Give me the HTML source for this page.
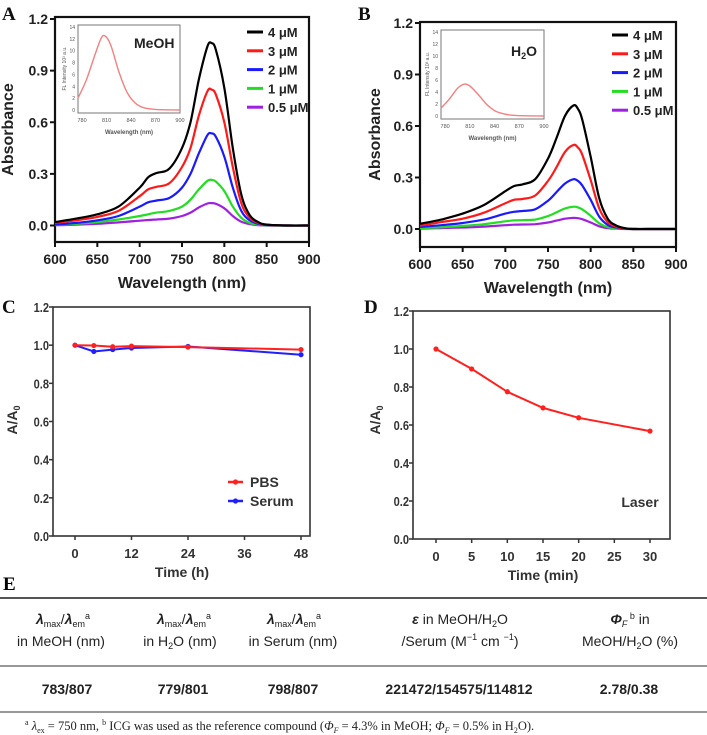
<!DOCTYPE html>
<html><head><meta charset="utf-8"><style>
body{margin:0;background:#fff;}
svg{display:block;font-family:"Liberation Sans",sans-serif;}
.b{font-weight:bold;}
</style></head><body>
<svg id="fig" width="707" height="735" viewBox="0 0 707 735" xmlns="http://www.w3.org/2000/svg">
<g id="gA"></g>
<g id="gB"></g>
<g id="gC"></g>
<g id="gD"></g>
<g id="gE">
<text x="3" y="590" font-family="Liberation Serif" font-weight="bold" font-size="19">E</text>
<line x1="0" y1="598" x2="707" y2="598" stroke="#555" stroke-width="2"/>
<line x1="0" y1="666" x2="707" y2="666" stroke="#777" stroke-width="1.5"/>
<line x1="0" y1="712" x2="707" y2="712" stroke="#777" stroke-width="1.5"/>
<g font-size="14" text-anchor="middle" fill="#222">
<text x="63" y="624"><tspan font-style="italic" font-weight="bold">λ</tspan><tspan font-size="9" dy="3">max</tspan><tspan dy="-3">/</tspan><tspan font-style="italic" font-weight="bold">λ</tspan><tspan font-size="9" dy="3">em</tspan><tspan font-size="9" dy="-8">a</tspan></text>
<text x="61" y="646">in MeOH (nm)</text>
<text x="184" y="624"><tspan font-style="italic" font-weight="bold">λ</tspan><tspan font-size="9" dy="3">max</tspan><tspan dy="-3">/</tspan><tspan font-style="italic" font-weight="bold">λ</tspan><tspan font-size="9" dy="3">em</tspan><tspan font-size="9" dy="-8">a</tspan></text>
<text x="180" y="646">in H<tspan font-size="9" dy="3">2</tspan><tspan dy="-3">O (nm)</tspan></text>
<text x="294" y="624"><tspan font-style="italic" font-weight="bold">λ</tspan><tspan font-size="9" dy="3">max</tspan><tspan dy="-3">/</tspan><tspan font-style="italic" font-weight="bold">λ</tspan><tspan font-size="9" dy="3">em</tspan><tspan font-size="9" dy="-8">a</tspan></text>
<text x="293" y="646">in Serum (nm)</text>
<text x="460" y="624"><tspan font-style="italic" font-weight="bold">ε</tspan> in MeOH/H<tspan font-size="9" dy="3">2</tspan><tspan dy="-3">O</tspan></text>
<text x="460" y="646">/Serum (M<tspan font-size="9" dy="-6">−1</tspan><tspan dy="6"> cm </tspan><tspan font-size="9" dy="-6">−1</tspan><tspan dy="6">)</tspan></text>
<text x="630" y="624"><tspan font-style="italic" font-weight="bold">Φ</tspan><tspan font-style="italic" font-size="9" dy="3">F</tspan><tspan font-size="9" dy="-8"> b</tspan><tspan dy="5"> in</tspan></text>
<text x="630" y="646">MeOH/H<tspan font-size="9" dy="3">2</tspan><tspan dy="-3">O (%)</tspan></text>
</g>
<g font-size="14" font-weight="bold" text-anchor="middle" fill="#222">
<text x="67" y="694">783/807</text>
<text x="183" y="694">779/801</text>
<text x="293" y="694">798/807</text>
<text x="459" y="694">221472/154575/114812</text>
<text x="629" y="694">2.78/0.38</text>
</g>
<text x="25" y="730" font-family="Liberation Serif" font-size="12.5" fill="#222"><tspan font-size="8" dy="-5">a</tspan><tspan dy="5"> </tspan><tspan font-style="italic">λ</tspan><tspan font-size="8" dy="3">ex</tspan><tspan dy="-3"> = 750 nm, </tspan><tspan font-size="8" dy="-5">b</tspan><tspan dy="5"> ICG was used as the reference compound (</tspan><tspan font-style="italic">Φ</tspan><tspan font-style="italic" font-size="8" dy="3">F</tspan><tspan dy="-3"> = 4.3% in MeOH; </tspan><tspan font-style="italic">Φ</tspan><tspan font-style="italic" font-size="8" dy="3">F</tspan><tspan dy="-3"> = 0.5% in H</tspan><tspan font-size="8" dy="3">2</tspan><tspan dy="-3">O).</tspan></text>
</g>
</svg>
<script>
const wl=[600,625,650,675,700,710,720,735,750,760,770,780,785,790,800,810,820,830,840,850,875,900];
const concLabels=["4 μM","3 μM","2 μM","1 μM","0.5 μM"];
const concColors=["#000000","#ff1a1a","#1a1aff","#22dd22","#a020e0"];
const aMeOH4=[0.02,0.04,0.065,0.11,0.22,0.28,0.305,0.33,0.45,0.6,0.85,1.04,1.06,1.02,0.8,0.45,0.18,0.06,0.02,0.005,0,0];
const aMeOH3=[0.015,0.03,0.05,0.085,0.17,0.21,0.225,0.245,0.34,0.45,0.64,0.78,0.79,0.76,0.6,0.34,0.13,0.045,0.015,0.004,0,0];
const aMeOH2=[0.005,0.015,0.03,0.055,0.11,0.135,0.145,0.16,0.22,0.3,0.42,0.525,0.535,0.515,0.4,0.22,0.085,0.03,0.01,0.003,0,0];
const aMeOH1=[0.003,0.01,0.02,0.035,0.055,0.065,0.075,0.085,0.11,0.15,0.21,0.26,0.265,0.255,0.2,0.11,0.045,0.015,0.005,0.001,0,0];
const aMeOH05=[0.002,0.005,0.01,0.018,0.028,0.032,0.035,0.04,0.055,0.075,0.105,0.128,0.13,0.126,0.1,0.055,0.022,0.008,0.002,0,0,0];
const aH2O4=[0.03,0.055,0.09,0.14,0.22,0.25,0.26,0.29,0.41,0.53,0.66,0.72,0.7,0.64,0.42,0.18,0.06,0.02,0.005,0,0,0];
const aH2O3=[0.02,0.04,0.06,0.095,0.15,0.17,0.175,0.195,0.28,0.36,0.45,0.49,0.475,0.435,0.285,0.12,0.04,0.013,0.003,0,0,0];
const aH2O2=[0.012,0.022,0.035,0.055,0.09,0.1,0.105,0.115,0.165,0.215,0.265,0.29,0.28,0.255,0.17,0.072,0.024,0.008,0.002,0,0,0];
const aH2O1=[0.005,0.01,0.018,0.028,0.045,0.05,0.052,0.055,0.075,0.097,0.12,0.13,0.126,0.115,0.077,0.033,0.011,0.004,0.001,0,0,0];
const aH2O05=[0.002,0.005,0.009,0.014,0.022,0.025,0.026,0.028,0.038,0.049,0.06,0.065,0.063,0.057,0.038,0.016,0.005,0.002,0,0,0,0];
const absTicks=[0,0.3,0.6,0.9,1.2];
const wlTicks=[600,650,700,750,800,850,900];
const flWlMeOH=[775,785,795,803,808,815,825,835,845,855,870,900];
const flMeOH=[2,5,9,12,12.5,11,6.5,3,1.2,0.4,0.1,0];
const flWlH2O=[775,785,795,803,810,820,830,840,850,865,900];
const flH2O=[1.3,2.8,4.6,5.3,5,3.6,2,0.9,0.4,0.1,0];
const flYTicks=[0,2,4,6,8,10,12,14];
const flXTicks=[780,810,840,870,900];
const timeH=[0,4,8,12,24,48];
const pbs=[1.0,0.998,0.992,0.995,0.99,0.977];
const serum=[1.0,0.967,0.977,0.985,0.993,0.95];
const timeHTicks=[0,12,24,36,48];
const ratioTicks=[0,0.2,0.4,0.6,0.8,1.0,1.2];
const timeMin=[0,5,10,15,20,30];
const laser=[1.0,0.895,0.775,0.69,0.638,0.568];
const timeMinTicks=[0,5,10,15,20,25,30];

const NS="http://www.w3.org/2000/svg";
function mk(parent,tag,attrs,txt){const e=document.createElementNS(NS,tag);for(const k in attrs)e.setAttribute(k,attrs[k]);if(txt!==undefined)e.textContent=txt;parent.appendChild(e);return e;}
function lin(d0,d1,r0,r1){return v=>r0+(v-d0)/(d1-d0)*(r1-r0);}
function smooth(pts){let d="M"+pts[0][0].toFixed(1)+","+pts[0][1].toFixed(1);for(let i=0;i<pts.length-1;i++){const p0=pts[Math.max(0,i-1)],p1=pts[i],p2=pts[i+1],p3=pts[Math.min(pts.length-1,i+2)];const c1=[p1[0]+(p2[0]-p0[0])/6,p1[1]+(p2[1]-p0[1])/6],c2=[p2[0]-(p3[0]-p1[0])/6,p2[1]-(p3[1]-p1[1])/6];d+="C"+c1[0].toFixed(1)+","+c1[1].toFixed(1)+" "+c2[0].toFixed(1)+","+c2[1].toFixed(1)+" "+p2[0].toFixed(1)+","+p2[1].toFixed(1);}return d;}

function spectrum(g,o){
  const x=lin(600,900,o.x0,o.x1), y=lin(0,1.2,o.y0,o.y12);
  const frame=mk(g,"rect",{x:o.x0,y:o.top,width:o.x1-o.x0,height:o.bot-o.top,fill:"none",stroke:"#111","stroke-width":2.2});
  
  
  absTicks.forEach(t=>{
    const tk=mk(g,"line",{x1:o.x0-5,x2:o.x0,y1:y(t),y2:y(t),stroke:"#111","stroke-width":2});
    
    
    const lb=mk(g,"text",{x:o.x0-7,y:y(t)+5,"text-anchor":"end","font-size":14,"font-weight":"bold",fill:"#222"},t.toFixed(1));
    
    
  });
  wlTicks.forEach(t=>{
    const tk=mk(g,"line",{x1:x(t),x2:x(t),y1:o.bot,y2:o.bot+5,stroke:"#111","stroke-width":2});
    
    
    const lb=mk(g,"text",{x:x(t),y:o.bot+22,"text-anchor":"middle","font-size":14,"font-weight":"bold",fill:"#222"},t);
    
    
  });
  const xt=mk(g,"text",{x:(o.x0+o.x1)/2,y:o.bot+46,"text-anchor":"middle","font-size":16,"font-weight":"bold",fill:"#222"},"Wavelength (nm)");
  
  
  const cy=(o.top+o.bot)/2;
  const yt=mk(g,"text",{x:o.ytx,y:cy,"text-anchor":"middle","font-size":16,"font-weight":"bold",fill:"#222",transform:"rotate(-90 "+o.ytx+" "+cy+")"},"Absorbance");
  
  
  const pl=mk(g,"text",{x:o.lx,y:o.ly,"font-family":"Liberation Serif","font-size":19,"font-weight":"bold",fill:"#111"},o.letter);
  
  
  for(let s=o.series.length-1;s>=0;s--){
    const pts=wl.map((w,i)=>[x(w),y(o.series[s][i])]);
    const p=mk(g,"path",{d:smooth(pts),fill:"none",stroke:concColors[s],"stroke-width":2.2});
    
    
  }
  concLabels.forEach((c,i)=>{
    const ly=o.legY+i*o.legStep;
    const ll=mk(g,"line",{x1:o.legX,x2:o.legX+16,y1:ly,y2:ly,stroke:concColors[i],"stroke-width":3});
    
    
    const lt=mk(g,"text",{x:o.legX+21,y:ly+5,"font-size":13,"font-weight":"bold",fill:"#222"},c);
    
    
  });
  // inset
  const ix=lin(775,900,o.ix0,o.ix1), iy=lin(0,14,o.iy0,o.iy14);
  const ib=mk(g,"rect",{x:o.ix0,y:o.iy14-2,width:o.ix1-o.ix0,height:o.iy0-o.iy14+5,fill:"#fff",stroke:"#777","stroke-width":1});
  
  
  flYTicks.forEach(t=>{
    const l=mk(g,"text",{x:o.ix0-3,y:iy(t)+2,"text-anchor":"end","font-size":5,fill:"#555"},t);
    
    
  });
  flXTicks.forEach(t=>{
    const l=mk(g,"text",{x:ix(t),y:o.iy0+12,"text-anchor":"middle","font-size":5.5,fill:"#555"},t);
    
    
  });
  const ixl=mk(g,"text",{x:(o.ix0+o.ix1)/2,y:o.iy0+24,"text-anchor":"middle","font-size":6,"font-weight":"bold",fill:"#555"},"Wavelength (nm)");
  
  
  const icy=(o.iy0+o.iy14)/2, iyx=o.ix0-12;
  const iyl=mk(g,"text",{x:iyx,y:icy,"text-anchor":"middle","font-size":5,fill:"#555",transform:"rotate(-90 "+iyx+" "+icy+")"},"FL Intensity 10³ a.u.");
  
  
  const ip=mk(g,"path",{d:smooth(o.flW.map((w,i)=>[ix(w),iy(o.fl[i])])),fill:"none",stroke:"#f58080","stroke-width":1.4});
  
  
  const st=mk(g,"text",{x:o.sx,y:o.sy,"font-size":14,"font-weight":"bold",fill:"#222"});
  st.innerHTML=o.solvent;
  
  
}
spectrum(document.getElementById("gA"),{x0:55,x1:309,y0:225.5,y12:19,top:17,bot:242,ytx:13,lx:2,ly:20,letter:"A",
  series:[aMeOH4,aMeOH3,aMeOH2,aMeOH1,aMeOH05],legX:247,legY:32,legStep:18.8,
  ix0:78,ix1:180,iy0:110,iy14:27,flW:flWlMeOH,fl:flMeOH,sx:134,sy:48,solvent:"MeOH"});
spectrum(document.getElementById("gB"),{x0:420,x1:676,y0:229,y12:23,top:22,bot:247,ytx:380,lx:358,ly:20,letter:"B",
  series:[aH2O4,aH2O3,aH2O2,aH2O1,aH2O05],legX:612,legY:35,legStep:18.8,
  ix0:441,ix1:544,iy0:116,iy14:32,flW:flWlH2O,fl:flH2O,sx:511,sy:56,solvent:'H<tspan font-size="9" dy="3">2</tspan><tspan dy="-3">O</tspan>'});

function kinetic(g,o){
  const x=lin(o.d0,o.d1,o.xa,o.xb), y=lin(0,1.2,o.y0,o.y12);
  const fr=mk(g,"rect",{x:o.l,y:o.y12,width:o.r-o.l,height:o.y0-o.y12,fill:"none",stroke:"#333","stroke-width":1.6});
  
  
  ratioTicks.forEach(t=>{
    const tk=mk(g,"line",{x1:o.l-4,x2:o.l,y1:y(t),y2:y(t),stroke:"#333","stroke-width":1.5});
    
    
    const lb=mk(g,"text",{x:o.l-4,y:y(t)+5,"text-anchor":"end","font-size":13,"font-weight":"bold",fill:"#333",transform:"translate("+(o.l-4)+",0) scale(0.85,1) translate("+(-(o.l-4))+",0)"},t.toFixed(1));
    
    
  });
  o.ticks.forEach(t=>{
    const tk=mk(g,"line",{x1:x(t),x2:x(t),y1:o.y0,y2:o.y0+4,stroke:"#333","stroke-width":1.5});
    
    
    const lb=mk(g,"text",{x:x(t),y:o.y0+22,"text-anchor":"middle","font-size":13,"font-weight":"bold",fill:"#333"},t);
    
    
  });
  const xt=mk(g,"text",{x:o.tx,y:o.y0+41,"text-anchor":"middle","font-size":14,"font-weight":"bold",fill:"#333"},o.title);
  
  
  const yt=mk(g,"text",{x:o.ytx,y:420,"text-anchor":"middle","font-size":14,"font-weight":"bold",fill:"#333",transform:"rotate(-90 "+o.ytx+" 420)"});
  yt.innerHTML='A/A<tspan font-size="9" dy="3">0</tspan>';
  
  
  const pl=mk(g,"text",{x:o.lx,y:313,"font-family":"Liberation Serif","font-size":19,"font-weight":"bold",fill:"#111"},o.letter);
  
  
  o.series.forEach((s,si)=>{
    const pts=o.xs.map((t,i)=>x(t).toFixed(1)+","+y(s.v[i]).toFixed(1)).join(" ");
    const pl2=mk(g,"polyline",{points:pts,fill:"none",stroke:s.c,"stroke-width":2});
    
    
    o.xs.forEach((t,i)=>{
      const m=mk(g,"circle",{cx:x(t),cy:y(s.v[i]),r:2.6,fill:s.c});
      
      
    });
  });
}
kinetic(document.getElementById("gC"),{d0:0,d1:48,xa:75,xb:301,l:53,r:310,y0:536,y12:307,ticks:timeHTicks,xs:timeH,
  title:"Time (h)",tx:182,ytx:17,lx:2,letter:"C",
  series:[{v:serum,c:"#2020ff",name:"serum"},{v:pbs,c:"#ff2020",name:"pbs"}]});
kinetic(document.getElementById("gD"),{d0:0,d1:30,xa:436,xb:650,l:413,r:670,y0:539,y12:311,ticks:timeMinTicks,xs:timeMin,
  title:"Time (min)",tx:543,ytx:380,lx:364,letter:"D",
  series:[{v:laser,c:"#ff2020",name:"laser"}]});
const gC=document.getElementById("gC");
[["PBS","#ff2020",482],["Serum","#2020ff",501]].forEach(r=>{
  const l=mk(gC,"line",{x1:228,x2:243,y1:r[2],y2:r[2],stroke:r[1],"stroke-width":2.5});
  
  
  const c=mk(gC,"circle",{cx:235.5,cy:r[2],r:2.6,fill:r[1]});
  
  
  const t=mk(gC,"text",{x:250,y:r[2]+5,"font-size":14,"font-weight":"bold",fill:"#333"},r[0]);
  
  
});
const gD=document.getElementById("gD");
const lz=mk(gD,"text",{x:640,y:507,"text-anchor":"middle","font-size":14,"font-weight":"bold",fill:"#333"},"Laser");


</script>
</body></html>
